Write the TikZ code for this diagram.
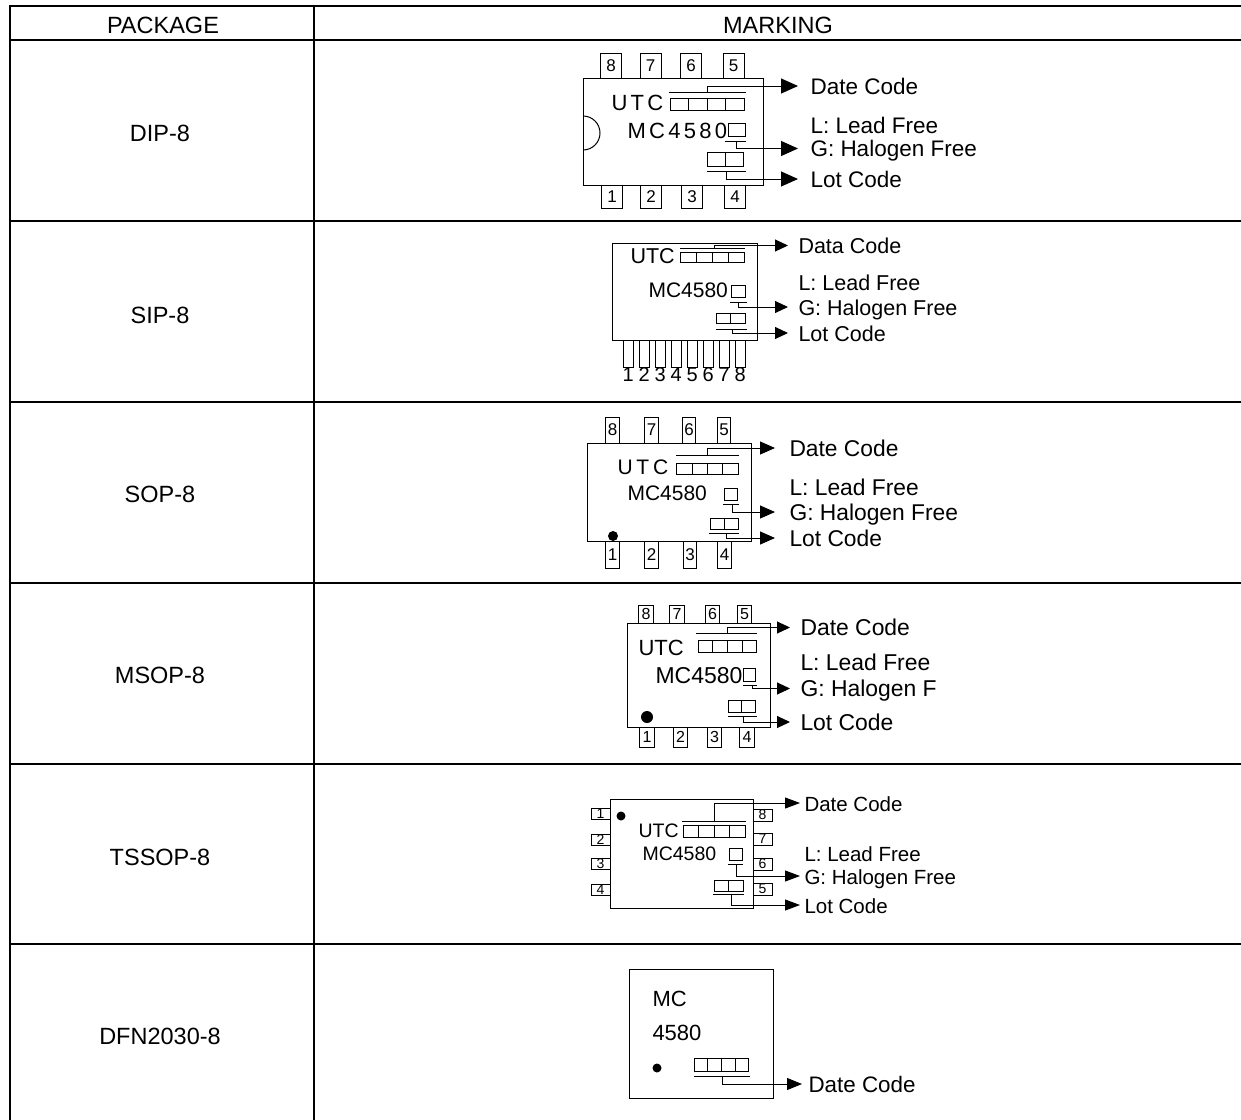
\documentclass[tikz,border=0pt]{standalone}
\usepackage{fontspec}
\setmainfont{Liberation Sans}
\usetikzlibrary{arrows.meta}

\tikzset{
  pinbox/.style 2 args={draw, inner sep=0pt, minimum width=#1, minimum height=#2},
  cbox/.style 2 args={draw, inner sep=0pt, minimum width=#1, minimum height=#2},
  codetext/.style 2 args={anchor=west, inner xsep=#1, inner ysep=0pt, text height=16pt, text depth=0pt, font=\fontsize{#2}{#2}\selectfont},
  chiptext/.style={anchor=base west, inner sep=0pt},
  headtext/.style={inner sep=0pt, text height=17pt, text depth=0pt, font=\fontsize{23.5}{24}\selectfont},
  codearrow/.style={-{Triangle[length=15pt,width=12pt]}}
}

\begin{document}
\begin{tikzpicture}[x=1pt, y=-1pt, line width=1pt]

      \useasboundingbox (0,0) rectangle (1241,1119);
      \clip (0,0) rectangle (1241,1119);

      % table
      \begin{scope}[line width=1.6pt]
        \draw (10,6) rectangle (1242,1126);
        \draw (314,6) -- (314,1126);
        \draw (10,40) -- (1242,40);
        \draw (10,221) -- (1242,221);
        \draw (10,402) -- (1242,402);
        \draw (10,583) -- (1242,583);
        \draw (10,764) -- (1242,764);
        \draw (10,944) -- (1242,944);
      \end{scope}

      \begin{scope}[every node/.style={headtext}]
        \node (hpack) at (163,25)  {PACKAGE};
        \node (hmark) at (778,25)  {MARKING};
        \node (pdip)  at (160,133) {DIP-8};
        \node (psip)  at (160,315) {SIP-8};
        \node (psop)  at (160,494) {SOP-8};
        \node (pmsop) at (160,675) {MSOP-8};
        \node (ptss)  at (160,857) {TSSOP-8};
        \node (pdfn)  at (160,1036) {DFN2030-8};
      \end{scope}

      % DIP-8
      \draw (583,78) rectangle (763,185);
      \draw (583,116) arc[start angle=90, end angle=-90, radius=17pt];
      \begin{scope}[every node/.style={pinbox={21pt}{25pt}, font=\fontsize{17}{17}\selectfont}]
        \node (d8) at (611,65.5)   {8};
        \node (d7) at (650.5,65.5) {7};
        \node (d6) at (691,65.5)   {6};
        \node (d5) at (733.5,65.5) {5};
        \node[minimum height=23pt] (d1) at (612,196.5) {1};
        \node[minimum height=23pt] (d2) at (651,196.5) {2};
        \node[minimum height=23pt] (d3) at (692,196.5) {3};
        \node[minimum height=23pt] (d4) at (735,196.5) {4};
      \end{scope}
      \node[chiptext, font={\fontsize{22}{22}\selectfont\addfontfeature{LetterSpace=15}}] (dutc) at (611,110) {UTC};
      \node[chiptext, font={\fontsize{22}{22}\selectfont\addfontfeature{LetterSpace=15}}] (dmc) at (627,138) {MC4580};
      \begin{scope}[every node/.style={cbox={18.5pt}{12pt}}]
        \node (dd1) at (679.25,104) {};
        \node (dd2) at (697.75,104) {};
        \node (dd3) at (716.25,104) {};
        \node (dd4) at (734.75,104) {};
        \node[minimum width=17pt, minimum height=13pt] (dl) at (736.5,129.5) {};
        \node[minimum width=18pt, minimum height=14pt] (dt1) at (716,159) {};
        \node[minimum width=18pt, minimum height=14pt] (dt2) at (734,159) {};
      \end{scope}
      \draw (669,92) -- (746,92);
      \draw (725,141) -- (746,141);
      \draw (707,171) -- (746,171);
      \coordinate (dj1) at (707,92);
      \coordinate (dj2) at (736,141);
      \coordinate (dj3) at (726,171);
      \begin{scope}[every node/.style={codetext={12pt}{22.5}}]
        \node (ddate) at (798,86)    {Date Code};
        \node (dlead) at (798,125)   {L: Lead Free};
        \node (dhal)  at (798,148.5) {G: Halogen Free};
        \node (dlot)  at (798,179)   {Lot Code};
      \end{scope}
      \begin{scope}[-{Triangle[length=17pt,width=15pt]}]
        \draw (dj1) |- (ddate.west);
        \draw (dj2) |- (dhal.west);
        \draw (dj3) |- (dlot.west);
      \end{scope}

      % SIP-8
      \draw (612,243) rectangle (757,340);
      \begin{scope}[every node/.style={pinbox={10.5pt}{27pt}}]
        \node (s1) at (628.25,353.5) {};
        \node (s2) at (644.25,353.5) {};
        \node (s3) at (660.25,353.5) {};
        \node (s4) at (676.25,353.5) {};
        \node (s5) at (692.25,353.5) {};
        \node (s6) at (708.25,353.5) {};
        \node (s7) at (724.25,353.5) {};
        \node (s8) at (740.25,353.5) {};
      \end{scope}
      \begin{scope}[every node/.style={inner sep=0pt, font=\fontsize{20}{20}\selectfont}]
        \node (sn1) at (628.25,375) {1};
        \node (sn2) at (644.25,375) {2};
        \node (sn3) at (660.25,375) {3};
        \node (sn4) at (676.25,375) {4};
        \node (sn5) at (692.25,375) {5};
        \node (sn6) at (708.25,375) {6};
        \node (sn7) at (724.25,375) {7};
        \node (sn8) at (740.25,375) {8};
      \end{scope}
      \node[chiptext, font=\fontsize{21.5}{21.5}\selectfont] (sutc) at (630,263) {UTC};
      \node[chiptext, font=\fontsize{21}{21}\selectfont] (smc) at (648,297) {MC4580};
      \begin{scope}[every node/.style={cbox={16pt}{10.5pt}}]
        \node (sd1) at (688,257.25) {};
        \node (sd2) at (704,257.25) {};
        \node (sd3) at (720,257.25) {};
        \node (sd4) at (736,257.25) {};
        \node[minimum width=14pt, minimum height=12pt] (sl) at (738,291) {};
        \node[minimum width=14.5pt, minimum height=10pt] (st1) at (723.25,318) {};
        \node[minimum width=14.5pt, minimum height=10pt] (st2) at (737.75,318) {};
      \end{scope}
      \draw (680,248) -- (745,248);
      \draw (730,302) -- (747,302);
      \draw (716,329) -- (747,329);
      \coordinate (sj1) at (714,248);
      \coordinate (sj2) at (738,302);
      \coordinate (sj3) at (732,329);
      \begin{scope}[every node/.style={codetext={10pt}{21.5}}]
        \node (sdate) at (788,245.5) {Data Code};
        \node (slead) at (788,282)   {L: Lead Free};
        \node (shal)  at (788,307)   {G: Halogen Free};
        \node (slot)  at (788,333)   {Lot Code};
      \end{scope}
      \begin{scope}[-{Triangle[length=13pt,width=12pt]}]
        \draw (sj1) |- (sdate.west);
        \draw (sj2) |- (shal.west);
        \draw (sj3) |- (slot.west);
      \end{scope}

      % SOP-8
      \draw (587,443) rectangle (751,541);
      \begin{scope}[every node/.style={pinbox={13.5pt}{26pt}, font=\fontsize{17}{17}\selectfont}]
        \node (o8) at (612.5,430) {8};
        \node (o7) at (651.5,430) {7};
        \node (o6) at (689,430)   {6};
        \node (o5) at (724,430)   {5};
        \node[minimum height=27pt] (o1) at (612.5,554.5) {1};
        \node[minimum height=27pt] (o2) at (651.7,554.5) {2};
        \node[minimum height=27pt] (o3) at (690,554.5)   {3};
        \node[minimum height=27pt] (o4) at (724.5,554.5) {4};
      \end{scope}
      \fill (613,536) circle[radius=5pt];
      \node[chiptext, font={\fontsize{21}{21}\selectfont\addfontfeature{LetterSpace=18}}] (outc) at (617,474) {UTC};
      \node[chiptext, font=\fontsize{21}{21}\selectfont] (omc) at (627,500) {MC4580};
      \begin{scope}[every node/.style={cbox={15.25pt}{10.5pt}}]
        \node (od1) at (684.6,469) {};
        \node (od2) at (699.9,469) {};
        \node (od3) at (715.1,469) {};
        \node (od4) at (730.4,469) {};
        \node[minimum width=12.5pt, minimum height=12pt] (ol) at (731,494) {};
        \node[minimum width=14pt, minimum height=11pt] (ot1) at (717,523.5) {};
        \node[minimum width=14pt, minimum height=11pt] (ot2) at (731,523.5) {};
      \end{scope}
      \draw (676,455) -- (739,455);
      \draw (723,504) -- (739,504);
      \draw (709,533) -- (739,533);
      \coordinate (oj1) at (707,455);
      \coordinate (oj2) at (732,504);
      \coordinate (oj3) at (726,533);
      \begin{scope}[every node/.style={codetext={14pt}{22.8}}]
        \node (odate) at (775,448) {Date Code};
        \node (olead) at (775,487) {L: Lead Free};
        \node (ohal)  at (775,512) {G: Halogen Free};
        \node (olot)  at (775,538) {Lot Code};
      \end{scope}
      \begin{scope}[-{Triangle[length=15pt,width=13pt]}]
        \draw (oj1) |- (odate.west);
        \draw (oj2) |- (ohal.west);
        \draw (oj3) |- (olot.west);
      \end{scope}

      % MSOP-8
      \draw (627,623) rectangle (770,727);
      \begin{scope}[every node/.style={pinbox={14.5pt}{18pt}, font=\fontsize{16}{16}\selectfont}]
        \node (m8) at (646,614)   {8};
        \node (m7) at (677,614)   {7};
        \node (m6) at (712.5,614) {6};
        \node (m5) at (744.5,614) {5};
        \node[minimum height=20pt] (m1) at (647,737)   {1};
        \node[minimum height=20pt] (m2) at (680.5,737) {2};
        \node[minimum height=20pt] (m3) at (714.5,737) {3};
        \node[minimum height=20pt] (m4) at (747,737)   {4};
      \end{scope}
      \fill (647,717) circle[radius=6pt];
      \node[chiptext, font=\fontsize{22}{22}\selectfont] (mutc) at (638,655) {UTC};
      \node[chiptext, font=\fontsize{23}{23}\selectfont] (mmc) at (655,683) {MC4580};
      \begin{scope}[every node/.style={cbox={14.75pt}{12pt}}]
        \node (md1) at (705.4,646) {};
        \node (md2) at (720.1,646) {};
        \node (md3) at (734.9,646) {};
        \node (md4) at (749.6,646) {};
        \node[minimum width=12pt, minimum height=13pt] (ml) at (749,675) {};
        \node[minimum width=13.5pt] (mt1) at (734.75,706) {};
        \node[minimum width=13.5pt] (mt2) at (748.25,706) {};
      \end{scope}
      \draw (696,633) -- (757,633);
      \draw (743,685) -- (757,685);
      \draw (728,716) -- (757,716);
      \coordinate (mj1) at (727,633);
      \coordinate (mj2) at (752,685);
      \coordinate (mj3) at (743,716);
      \begin{scope}[every node/.style={codetext={10pt}{22.9}}]
        \node (mdate) at (790,627.5) {Date Code};
        \node (mlead) at (790,662)   {L: Lead Free};
        \node (mhal)  at (790,688.5) {G: Halogen F};
        \node (mlot)  at (790,722)   {Lot Code};
      \end{scope}
      \begin{scope}[-{Triangle[length=13pt,width=12pt]}]
        \draw (mj1) |- (mdate.west);
        \draw (mj2) |- (mhal.west);
        \draw (mj3) |- (mlot.west);
      \end{scope}

      % TSSOP-8
      \draw (610,799) rectangle (753,908);
      \begin{scope}[every node/.style={pinbox={19pt}{11pt}, font=\fontsize{14}{14}\selectfont}]
        \node (t1) at (600.5,814)   {1};
        \node (t2) at (600.5,839.5) {2};
        \node (t3) at (600.5,864)   {3};
        \node (t4) at (600.5,890)   {4};
        \node[minimum height=12pt] (t8) at (762.5,815) {8};
        \node[minimum height=12pt] (t7) at (762.5,839) {7};
        \node[minimum height=12pt] (t6) at (762.5,864) {6};
        \node[minimum height=12pt] (t5) at (762.5,889) {5};
      \end{scope}
      \fill (621,816) circle[radius=4.5pt];
      \node[chiptext, font=\fontsize{19.5}{19.5}\selectfont] (tutc) at (638,837) {UTC};
      \node[chiptext, font=\fontsize{19.5}{19.5}\selectfont] (tmc) at (642,860) {MC4580};
      \begin{scope}[every node/.style={cbox={15.5pt}{12pt}}]
        \node (td1) at (690.75,831) {};
        \node (td2) at (706.25,831) {};
        \node (td3) at (721.75,831) {};
        \node (td4) at (737.25,831) {};
        \node[minimum width=13pt] (tl) at (735.5,854) {};
        \node[minimum width=14.5pt, minimum height=11pt] (tt1) at (721.25,885.5) {};
        \node[minimum width=14.5pt, minimum height=11pt] (tt2) at (735.75,885.5) {};
      \end{scope}
      \draw (682,821) -- (746,821);
      \draw (728,864) -- (743,864);
      \draw (713,894) -- (744,894);
      \coordinate (tj1) at (714,821);
      \coordinate (tj2) at (736,864);
      \coordinate (tj3) at (731,894);
      \begin{scope}[every node/.style={codetext={4pt}{20.5}}]
        \node (tdate) at (800,803) {Date Code};
        \node (tlead) at (800,853) {L: Lead Free};
        \node (thal)  at (800,876) {G: Halogen Free};
        \node (tlot)  at (800,905) {Lot Code};
      \end{scope}
      \begin{scope}[-{Triangle[length=15pt,width=11pt]}]
        \draw (tj1) |- (tdate.west);
        \draw (tj2) |- (thal.west);
        \draw (tj3) |- (tlot.west);
      \end{scope}

      % DFN2030-8
      \draw (629,969) rectangle (773,1098);
      \node[chiptext, font=\fontsize{22}{22}\selectfont] (fmc) at (652,1006) {MC};
      \node[chiptext, font=\fontsize{22}{22}\selectfont] (fnum) at (652,1040) {4580};
      \fill (657,1068) circle[radius=4.5pt];
      \begin{scope}[every node/.style={cbox={13.75pt}{13pt}}]
        \node (fd1) at (700.9,1065) {};
        \node (fd2) at (714.6,1065) {};
        \node (fd3) at (728.4,1065) {};
        \node (fd4) at (742.1,1065) {};
      \end{scope}
      \draw (694,1076) -- (750,1076);
      \coordinate (fj1) at (722,1076);
      \node[codetext={6pt}{22.4}] (fdate) at (802,1084) {Date Code};
      \draw[codearrow] (fj1) |- (fdate.west);

    \end{tikzpicture}
\end{document}
